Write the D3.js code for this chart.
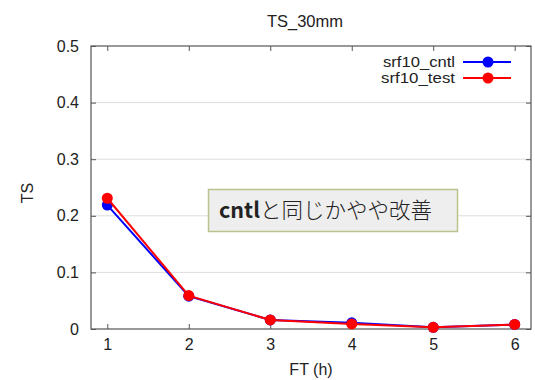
<!DOCTYPE html>
<html><head><meta charset="utf-8">
<script src="https://cdn.jsdelivr.net/npm/d3@7"></script>
<style>body{margin:0;background:#fff}svg{display:block}</style>
</head><body>
<svg id="c" width="535" height="380"></svg>
<script>
const hours = [1, 2, 3, 4, 5, 6];
const cntl = [0.219, 0.058, 0.016, 0.011, 0.003, 0.008];
const test = [0.231, 0.059, 0.016, 0.009, 0.003, 0.008];
const yTicks = [0, 0.1, 0.2, 0.3, 0.4, 0.5];
const seriesNames = ["srf10_cntl", "srf10_test"];
const seriesColors = ["#0000ff", "#ff0000"];

const svg = d3.select("#c");
const font = "Liberation Sans, Arial, sans-serif";
const L = 91, R = 531, T = 46, B = 329;
const x = d3.scaleLinear().domain([0.8, 6.2]).range([L, R]);
const y = d3.scaleLinear().domain([0, 0.5]).range([B, T]);

// grid
svg.append("g").selectAll("line").data(yTicks.slice(1, -1)).join("line")
  .attr("x1", L).attr("x2", R).attr("y1", d => y(d)).attr("y2", d => y(d))
  .attr("stroke", "#dddddd").attr("stroke-width", 1);

// axes
const ax = (gen, tr) => svg.append("g").attr("transform", tr).call(gen)
  .call(g => g.select(".domain").remove())
  .call(g => g.selectAll("line").attr("stroke", "#555"))
  .call(g => g.selectAll("text").attr("font-family", font).attr("font-size", 16).attr("fill", "#222"));
ax(d3.axisBottom(x).tickValues(hours).tickFormat(d3.format("d")).tickSize(-5).tickPadding(10), `translate(0,${B})`);
ax(d3.axisTop(x).tickValues(hours).tickSize(-5).tickFormat(""), `translate(0,${T})`);
ax(d3.axisLeft(y).tickValues(yTicks).tickFormat(d => d === 0 ? "0" : d3.format(".1f")(d)).tickSize(-5).tickPadding(12), `translate(${L},0)`);
ax(d3.axisRight(y).tickValues(yTicks).tickSize(-5).tickFormat(""), `translate(${R},0)`);

svg.append("rect").attr("x", L).attr("y", T).attr("width", R - L).attr("height", B - T)
  .attr("fill", "none").attr("stroke", "#555").attr("stroke-width", 1.2);

// titles
svg.append("text").attr("x", 305).attr("y", 27).attr("text-anchor", "middle")
  .attr("font-family", font).attr("font-size", 16.5).attr("fill", "#222").text("TS_30mm");
svg.append("text").attr("transform", "translate(33,193) rotate(-90)").attr("text-anchor", "middle")
  .attr("font-family", font).attr("font-size", 16).attr("fill", "#222").text("TS");
svg.append("text").attr("x", 311).attr("y", 375).attr("text-anchor", "middle")
  .attr("font-family", font).attr("font-size", 16).attr("fill", "#222").text("FT (h)");

// series
const line = d3.line().x((d, i) => x(hours[i])).y(d => y(d));
[cntl, test].forEach((data, s) => {
  svg.append("path").datum(data).attr("d", line).attr("fill", "none")
    .attr("stroke", seriesColors[s]).attr("stroke-width", 2);
  svg.append("g").selectAll("circle").data(data).join("circle")
    .attr("cx", (d, i) => x(hours[i])).attr("cy", d => y(d)).attr("r", 5.5)
    .attr("fill", seriesColors[s]);
});

// legend
seriesNames.forEach((n, s) => {
  const ly = 62 + s * 16;
  svg.append("text").attr("x", 455).attr("y", ly + 5).attr("text-anchor", "end")
    .attr("font-family", font).attr("font-size", 15)
    .attr("textLength", s === 0 ? 72 : 74).attr("lengthAdjust", "spacingAndGlyphs")
    .attr("fill", "#222").text(n);
  svg.append("line").attr("x1", 463).attr("x2", 511).attr("y1", ly).attr("y2", ly)
    .attr("stroke", seriesColors[s]).attr("stroke-width", 2);
  svg.append("circle").attr("cx", 488).attr("cy", ly).attr("r", 5.5).attr("fill", seriesColors[s]);
});

// annotation box
svg.append("rect").attr("x", 208.5).attr("y", 189.5).attr("width", 249).attr("height", 42)
  .attr("fill", "#eeeeee").attr("stroke", "#b8c48e").attr("stroke-width", 1.5);
const ann = svg.append("text").attr("x", 219).attr("y", 218)
  .attr("font-family", "Noto Sans CJK JP, sans-serif").attr("font-size", 21.5).attr("fill", "#222");
ann.append("tspan").attr("font-weight", 600).text("cntl");
ann.append("tspan").attr("font-weight", 300).text("と同じかやや改善");
</script>
</body></html>
